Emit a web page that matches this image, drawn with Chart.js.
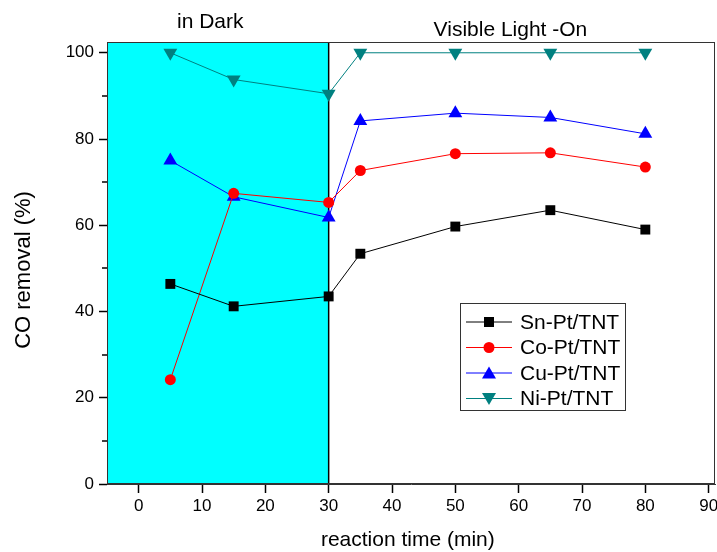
<!DOCTYPE html>
<html>
<head>
<meta charset="utf-8">
<script src="https://cdn.jsdelivr.net/npm/chart.js@4/dist/chart.umd.min.js"></script>
<style>
  html, body { margin: 0; padding: 0; background: #fff; overflow: hidden; }
  /* the canvas runs a few pixels past the window so the plot frame sits near the edge, as in the original */
  #wrap { width: 717px; height: 552px; overflow: hidden; }
</style>
</head>
<body>
<div id="wrap"><canvas id="myChart" width="723" height="552"></canvas></div>
<script>
// Reaction time (min) where CO removal was measured
const times = [5, 15, 30, 35, 50, 65, 80];

// CO removal (%) per catalyst
const snPt = [46.4, 41.2, 43.5, 53.4, 59.7, 63.5, 59.0];
const coPt = [24.2, 67.4, 65.3, 72.7, 76.6, 76.8, 73.5];
const cuPt = [75.0, 66.6, 61.8, 84.2, 86.0, 85.0, 81.2];
const niPt = [100, 93.8, 90.5, 100, 100, 100, 100];

const seriesNames = ["Sn-Pt/TNT", "Co-Pt/TNT", "Cu-Pt/TNT", "Ni-Pt/TNT"];

// Tick labels
const xTicks = [0, 10, 20, 30, 40, 50, 60, 70, 80, 90];
const yTicks = [0, 10, 20, 30, 40, 50, 60, 70, 80, 90, 100];

// The dark period ends when the lamp is switched on
const darkStart = -5;
const lightOnAt = 30;

const FONT = "'Liberation Sans', Arial, sans-serif";

function pts(values) {
  return times.map((t, i) => ({ x: t, y: values[i] }));
}

// Draws the cyan "dark" region, the lamp-on line, the frame and the two phase labels
const phasePlugin = {
  id: "phases",
  beforeDatasetsDraw(chart) {
    const { ctx, chartArea: a, scales: { x } } = chart;
    const x0 = x.getPixelForValue(darkStart);
    const x1 = x.getPixelForValue(lightOnAt);
    ctx.save();
    ctx.fillStyle = "#00ffff";
    ctx.fillRect(x0, a.top, x1 - x0, a.bottom - a.top);
    ctx.strokeStyle = "#000";
    ctx.lineWidth = 1.5;
    ctx.beginPath();
    ctx.moveTo(x1, a.top);
    ctx.lineTo(x1, a.bottom);
    ctx.stroke();
    ctx.restore();
  },
  afterDraw(chart) {
    const { ctx, chartArea: a, scales: { x, y } } = chart;
    ctx.save();
    ctx.strokeStyle = "#333";
    ctx.lineWidth = 1;
    ctx.strokeRect(a.left + 0.5, a.top + 0.5, a.right - a.left - 1, a.bottom - a.top - 1);

    // short minor ticks on the y axis
    ctx.strokeStyle = "#000";
    ctx.lineWidth = 1.5;
    yTicks.filter(v => v % 20 !== 0).forEach(v => {
      const py = Math.round(y.getPixelForValue(v));
      ctx.beginPath();
      ctx.moveTo(a.left - 5, py);
      ctx.lineTo(a.left, py);
      ctx.stroke();
    });

    ctx.fillStyle = "#000";
    ctx.font = "21px " + FONT;
    ctx.textAlign = "center";
    ctx.textBaseline = "middle";
    ctx.fillText("in Dark", x.getPixelForValue(11.3), 22);
    ctx.fillText("Visible Light -On", x.getPixelForValue(58.7), 30);

    // x axis title
    ctx.fillText("reaction time (min)", x.getPixelForValue(42.5), 540);

    // y axis title, sitting a little below the plot's middle as in the original
    ctx.translate(24, 270);
    ctx.rotate(-Math.PI / 2);
    ctx.font = "22px " + FONT;
    ctx.fillText("CO removal (%)", 0, 0);
    ctx.restore();
  }
};

function drawMarker(ctx, style, cx, cy, color) {
  ctx.fillStyle = color;
  ctx.beginPath();
  if (style === "rect") {
    ctx.rect(cx - 5, cy - 5, 10, 10);
  } else if (style === "circle") {
    ctx.arc(cx, cy, 5.5, 0, Math.PI * 2);
  } else if (style === "triangle") {
    ctx.moveTo(cx, cy - 6.5);
    ctx.lineTo(cx + 7, cy + 5.5);
    ctx.lineTo(cx - 7, cy + 5.5);
  } else {
    ctx.moveTo(cx, cy + 6.5);
    ctx.lineTo(cx + 7, cy - 5.5);
    ctx.lineTo(cx - 7, cy - 5.5);
  }
  ctx.closePath();
  ctx.fill();
}

// Boxed legend inside the plot, Origin style
const legendPlugin = {
  id: "boxLegend",
  afterDraw(chart) {
    const { ctx } = chart;
    const bx = 460, by = 303, bw = 165, bh = 107;
    ctx.save();
    ctx.fillStyle = "#fff";
    ctx.fillRect(bx, by, bw, bh);
    ctx.strokeStyle = "#333";
    ctx.lineWidth = 1;
    ctx.strokeRect(bx + 0.5, by + 0.5, bw, bh);
    const styles = ["rect", "circle", "triangle", "triangleDown"];
    chart.data.datasets.forEach((ds, i) => {
      const cy = by + 19 + i * 25.5;
      ctx.strokeStyle = ds.borderColor;
      ctx.lineWidth = 1;
      ctx.beginPath();
      ctx.moveTo(bx + 6, cy);
      ctx.lineTo(bx + 52, cy);
      ctx.stroke();
      drawMarker(ctx, styles[i], bx + 29, cy, ds.backgroundColor);
      ctx.fillStyle = "#000";
      ctx.font = "21px " + FONT;
      ctx.textAlign = "left";
      ctx.textBaseline = "middle";
      ctx.fillText(ds.label, bx + 60, cy + 1);
    });
    ctx.restore();
  }
};

const ctx = document.getElementById("myChart").getContext("2d");

new Chart(ctx, {
  type: "line",
  data: {
    datasets: [
      { label: seriesNames[0], data: pts(snPt), borderColor: "#000", backgroundColor: "#000",
        pointStyle: "rect", pointRadius: 7 },
      { label: seriesNames[1], data: pts(coPt), borderColor: "#ff0000", backgroundColor: "#ff0000",
        pointStyle: "circle", pointRadius: 5.5 },
      { label: seriesNames[2], data: pts(cuPt), borderColor: "#0000ff", backgroundColor: "#0000ff",
        pointStyle: "triangle", pointRadius: 8 },
      { label: seriesNames[3], data: pts(niPt), borderColor: "#008080", backgroundColor: "#008080",
        pointStyle: "triangle", rotation: 180, pointRadius: 8 }
    ]
  },
  options: {
    responsive: false,
    animation: false,
    layout: { padding: { top: 42, right: 0, left: 0, bottom: 0 } },
    elements: {
      line: { borderWidth: 1, tension: 0 },
      point: { borderWidth: 0, hoverRadius: 6 }
    },
    plugins: {
      legend: { display: false },
      tooltip: { enabled: false }
    },
    scales: {
      x: {
        type: "linear",
        min: -5,
        max: 91,
        afterBuildTicks: s => { s.ticks = xTicks.map(v => ({ value: v })); },
        afterFit: s => { s.height = 68; },
        grid: { drawOnChartArea: false, color: "#000", tickLength: 9, tickWidth: 1.5 },
        border: { color: "#333", width: 1 },
        ticks: { color: "#000", font: { family: FONT, size: 17 }, padding: 3, maxRotation: 0 },
        title: { display: false }
      },
      y: {
        min: 0,
        max: 102.5,
        afterBuildTicks: s => { s.ticks = yTicks.map(v => ({ value: v })); },
        afterFit: s => { s.width = 107; },
        grid: {
          drawOnChartArea: false,
          color: "#000",
          tickColor: c => (c.tick && c.tick.value % 20 !== 0 ? "rgba(0,0,0,0)" : "#000"),
          tickLength: 8,
          tickWidth: 1.5
        },
        border: { color: "#333", width: 1 },
        ticks: {
          color: "#000",
          font: { family: FONT, size: 17 },
          padding: 5,
          callback: v => (v % 20 === 0 ? v : "")
        },
        title: { display: false }
      }
    }
  },
  plugins: [phasePlugin, legendPlugin]
});
</script>
</body>
</html>
